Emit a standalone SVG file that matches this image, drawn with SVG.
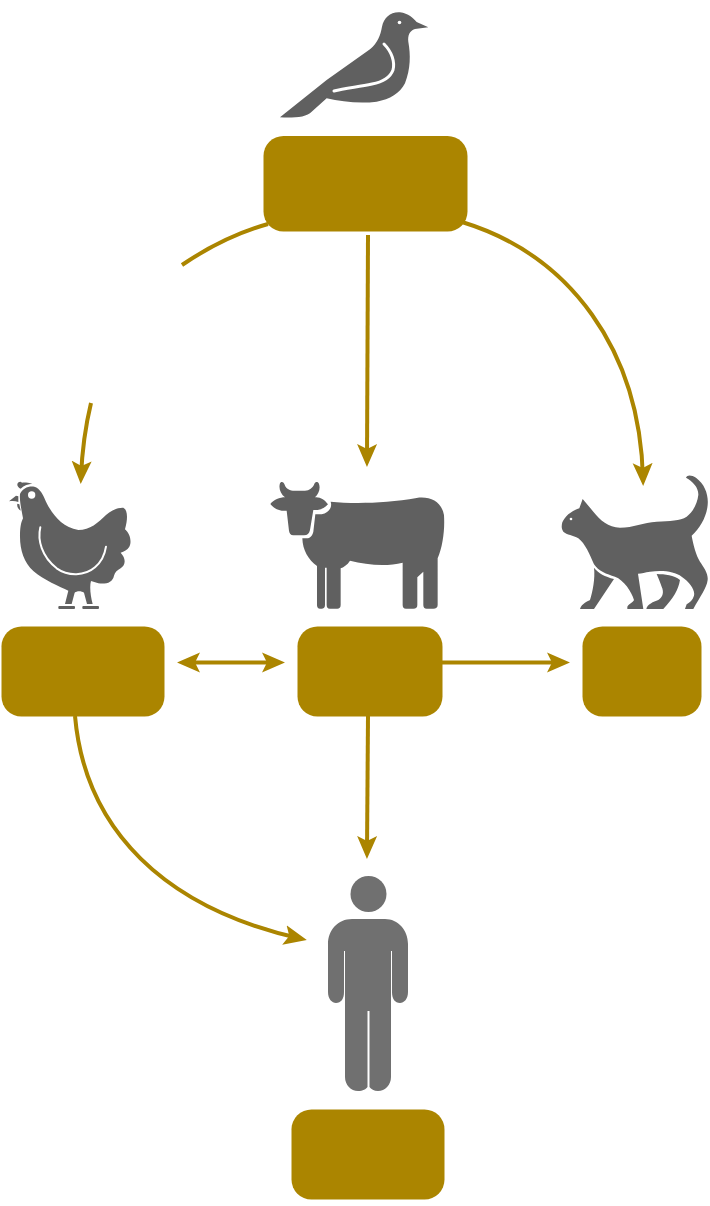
<svg xmlns="http://www.w3.org/2000/svg" width="710" height="1206" viewBox="0 0 710 1206">
<style>
.box{fill:#ab8500}
.ani{fill:#606060}
.cut{fill:none;stroke:#fff;stroke-linecap:round}
.con{fill:none;stroke:#ab8500;stroke-width:4}
.arr{marker-end:url(#ah)}
</style>
<defs>
<marker id="ah" viewBox="0 0 24 21" refX="16" refY="10.500" markerWidth="24" markerHeight="21" markerUnits="userSpaceOnUse" orient="auto-start-reverse">
<path d="M0 0.500L23 10.500L0 20.500L5 10.500Z" fill="#ab8500"/>
</marker>
</defs>
<rect width="710" height="1206" fill="#fff"/>
<g id="connectors">
<path class="con" d="M268 224C236 233 207 248 182 265"/>
<path class="con arr" d="M91 403C85 428 82 452 81 477"/>
<path class="con arr" d="M462 222C570 255 640 350 643 479"/>
<path class="con arr" d="M368 235L367 460"/>
<path class="con" d="M184 662.500L278 662.500" marker-start="url(#ah)" marker-end="url(#ah)"/>
<path class="con arr" d="M442 662.500L563 662.500"/>
<path class="con arr" d="M368 716L367 852"/>
<path class="con arr" d="M75 716C85 830 165 908 300 938.500"/>
</g>
<g id="node-bird">
<path class="ani" transform="translate(260,0) scale(.3333)" d="M60 352L200 240L330 148C352 130 362 105 366 80C372 52 392 35 420 37C445 40 460 55 470 66L505 82L465 87C448 92 443 108 445 125C452 165 452 205 435 250C420 280 390 298 350 305C300 312 245 305 200 295L155 335C140 352 100 354 60 352Z"/>
<circle cx="399.500" cy="22.500" r="1.800" fill="#fff"/>
<path class="cut" stroke-width="3" d="M384 44C392 52 395 62 393 70C390 78 383 82 372 84C358 87 345 88 334 91"/>
<rect class="box" x="263.500" y="136" width="204" height="95.500" rx="20"/>
</g>
<g id="node-chicken">
<g transform="translate(0,470) scale(.3333)">
<path class="ani" d="M60 72C68 55 85 47 103 50C120 55 130 75 138 95C155 130 185 172 235 180C270 180 295 158 318 135C335 120 355 112 370 113C382 120 385 140 375 178C390 190 396 215 388 230C382 240 372 245 362 248C378 265 378 285 362 295C352 300 345 307 342 317C338 337 320 343 295 340L273 333C268 350 272 380 278 402H261L252 368C245 362 230 362 224 368L215 402H195L205 362C180 350 130 330 100 303C72 278 60 240 60 200C60 175 62 160 69 145C65 120 58 95 60 72Z"/>
<path class="ani" d="M52 42C55 35 62 33 66 38C72 36 85 38 97 41C85 42 72 46 62 56C56 54 51 48 52 42Z"/>
<path class="ani" d="M27 94L48 77L55 79L55 96C45 92 36 92 27 94Z"/>
<path class="ani" d="M52 101L58 103L62 122C55 118 50 110 52 101Z"/>
<circle cx="95" cy="75" r="11" fill="#fff"/>
<path class="cut" stroke-width="6" d="M121 172C112 210 125 260 170 295C205 320 255 318 285 292C305 275 315 250 318 230"/>
<rect class="ani" x="175" y="408" width="50" height="9" rx="3"/>
<rect class="ani" x="247" y="408" width="50" height="9" rx="3"/>
</g>
<rect class="box" x="1.500" y="626.500" width="163" height="90" rx="20"/>
</g>
<g id="node-cow">
<g transform="translate(260,470) scale(.3333)">
<path class="ani" d="M212 95C280 102 380 100 470 84C510 78 545 95 552 135C555 180 548 230 533 265V405C533 413 528 416 520 416H500C493 416 490 412 490 405V305L472 322V405C472 413 468 416 460 416H438C431 416 428 412 428 405V278C380 290 320 285 270 272C262 285 250 292 242 295V405C242 413 238 416 232 416H209C203 416 200 412 200 405V293H195V405C195 413 191 416 185 416H180C174 416 171 412 171 405V288C145 270 128 240 127 205H140C150 205 158 196 160 185L166 133H185C205 130 218 112 212 95Z"/>
<path class="ani" d="M60 40C64 32 72 36 74 44C78 56 90 62 104 62H135C148 62 158 54 163 42C166 35 174 34 177 42C182 56 176 72 165 82C180 80 195 90 204 103C195 115 178 122 160 120L150 180C148 190 142 196 132 196H100C92 196 88 190 87 182L80 122C60 125 40 115 31 102C40 90 60 82 75 82C62 72 55 55 60 40Z"/>
</g>
<rect class="box" x="297.500" y="626.500" width="145" height="90" rx="20"/>
</g>
<g id="node-cat">
<g transform="translate(550,465) scale(.3333)">
<path class="ani" d="M98 102L130 140C150 165 175 187 210 188C250 188 280 172 320 170C360 168 390 168 410 155C430 140 442 115 445 90C446 68 430 50 408 38C412 28 425 30 438 38C465 58 476 90 473 120C470 155 450 190 425 212C430 240 438 270 450 290C462 308 475 325 473 345C470 370 450 395 430 432H405L410 418C420 412 428 405 432 392C436 375 420 352 395 335C375 320 340 315 300 320C285 322 275 325 264 326L280 432H232V425C238 415 250 412 252 405C245 380 222 345 195 335C170 328 145 318 132 298C120 270 105 235 85 220C70 210 50 210 40 200C33 190 35 180 37 172C45 155 60 140 88 130Z"/>
<path class="ani" d="M132 308C145 325 165 335 192 342L132 432H90C95 415 115 408 120 405C128 380 136 340 132 308Z"/>
<path class="ani" d="M320 327C345 328 372 330 390 345C385 375 370 400 340 432H289C292 418 310 410 325 405C340 395 342 380 335 365C330 350 325 340 320 327Z"/>
<circle cx="63" cy="162" r="4" fill="#fff"/>
</g>
<rect class="box" x="582.500" y="626.500" width="119" height="90" rx="20"/>
</g>
<g id="node-person">
<g fill="#707070">
<circle cx="368.500" cy="894" r="18"/>
<path d="M352 919H385C398 919 408 930 408 944V992C408 999 404 1003 400 1003C395 1003 392 999 392 992V951H391V1077C391 1085 385 1091 378 1091C374 1091 371 1089 369.500 1087V1011H367.500V1087C366 1089 363 1091 358 1091C351 1091 345 1085 345 1077V951H344V992C344 999 341 1003 336 1003C332 1003 328 999 328 992V944C328 930 338 919 352 919Z"/>
</g>
<rect class="box" x="291.500" y="1109.500" width="153" height="90" rx="20"/>
</g>
</svg>
